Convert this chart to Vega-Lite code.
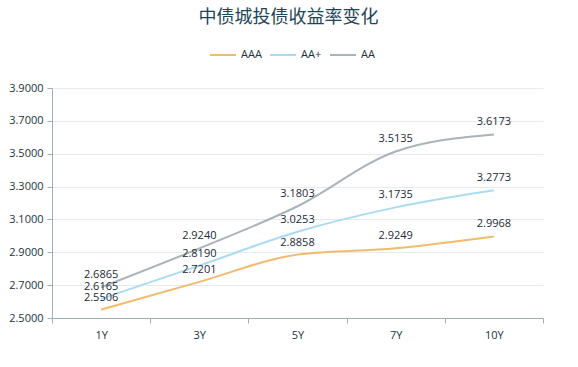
{
  "$schema": "https://vega.github.io/schema/vega-lite/v6.json",
  "width": 491,
  "height": 230,
  "autosize": {"type": "none"},
  "padding": {"left": 52, "top": 88, "right": 35, "bottom": 49},
  "background": "white",
  "title": {
    "text": "中债城投债收益率变化",
    "fontSize": 18,
    "font": "Noto Sans CJK SC",
    "fontWeight": "normal",
    "color": "#1d4656",
    "anchor": "middle",
    "dx": -9,
    "offset": 14
  },
  "config": {
    "font": "Open Sans",
    "view": {"stroke": null}
  },
  "data": {
    "values": [
      {"term": "1Y", "rating": "AAA", "yield": 2.5506},
      {"term": "3Y", "rating": "AAA", "yield": 2.7201},
      {"term": "5Y", "rating": "AAA", "yield": 2.8858},
      {"term": "7Y", "rating": "AAA", "yield": 2.9249},
      {"term": "10Y", "rating": "AAA", "yield": 2.9968},
      {"term": "1Y", "rating": "AA+", "yield": 2.6165},
      {"term": "3Y", "rating": "AA+", "yield": 2.8190},
      {"term": "5Y", "rating": "AA+", "yield": 3.0253},
      {"term": "7Y", "rating": "AA+", "yield": 3.1735},
      {"term": "10Y", "rating": "AA+", "yield": 3.2773},
      {"term": "1Y", "rating": "AA", "yield": 2.6865},
      {"term": "3Y", "rating": "AA", "yield": 2.9240},
      {"term": "5Y", "rating": "AA", "yield": 3.1803},
      {"term": "7Y", "rating": "AA", "yield": 3.5135},
      {"term": "10Y", "rating": "AA", "yield": 3.6173}
    ]
  },
  "encoding": {
    "x": {
      "field": "term",
      "type": "ordinal",
      "sort": ["1Y", "3Y", "5Y", "7Y", "10Y"],
      "scale": {"type": "band", "paddingInner": 0, "paddingOuter": 0},
      "axis": {
        "title": null,
        "labelAngle": 0,
        "labelFontSize": 11,
        "labelColor": "#1a3340",
        "labelPadding": 6,
        "domainColor": "#9fb0b8",
        "tickColor": "#9fb0b8",
        "tickSize": 5,
        "tickBand": "extent",
        "grid": false
      }
    },
    "y": {
      "field": "yield",
      "type": "quantitative",
      "scale": {"domain": [2.5, 3.9], "nice": false, "zero": false},
      "axis": {
        "title": null,
        "values": [2.5, 2.7, 2.9, 3.1, 3.3, 3.5, 3.7, 3.9],
        "format": ".4f",
        "labelFontSize": 11,
        "labelColor": "#1a3340",
        "labelPadding": 4,
        "domainColor": "#9fb0b8",
        "tickColor": "#9fb0b8",
        "tickSize": 5,
        "gridColor": "#e6eaee",
        "grid": true
      }
    },
    "color": {
      "field": "rating",
      "type": "nominal",
      "scale": {"domain": ["AAA", "AA+", "AA"], "range": ["#f1bb6e", "#a9dcf0", "#a8b3ba"]},
      "legend": {
        "title": null,
        "orient": "none",
        "direction": "horizontal",
        "legendX": 157,
        "legendY": -47,
        "symbolType": "stroke",
        "symbolSize": 676,
        "symbolStrokeWidth": 2,
        "labelFontSize": 11,
        "labelColor": "#1a3340",
        "labelOffset": 4,
        "columnPadding": 4
      }
    }
  },
  "layer": [
    {
      "mark": {"type": "line", "interpolate": "monotone", "strokeWidth": 2}
    },
    {
      "mark": {"type": "text", "dy": -12, "fontSize": 11, "color": "#1a2a36"},
      "encoding": {
        "text": {"field": "yield", "type": "quantitative", "format": ".4f"},
        "color": {"value": "#1a2a36"}
      }
    }
  ]
}
